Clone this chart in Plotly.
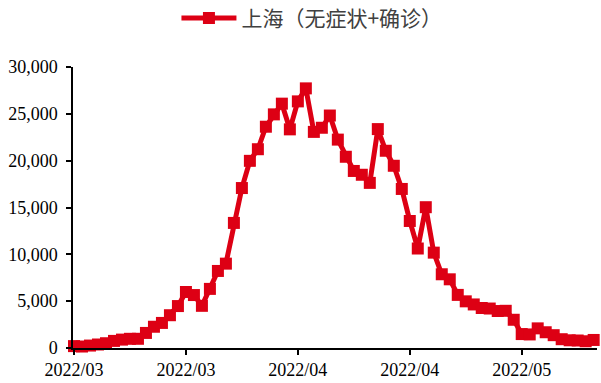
import datetime as dt
import plotly.graph_objects as go

# Daily new cases in Shanghai (asymptomatic + confirmed), 2022-03-15 .. 2022-05-19
start_date = "2022-03-15"
cases = [
    202, 158, 260, 374, 509, 758, 896, 981, 983, 1609,
    2269, 2676, 3500, 4477, 5982, 5653, 4502, 6311, 8226, 9006,
    13354, 17077, 19982, 21222, 23624, 24943, 26087, 23342, 26330, 27719,
    23072, 23513, 24820, 22248, 20416, 18901, 18495, 17629, 23370, 21058,
    19455, 16980, 13562, 10622, 15032, 10181, 7872, 7333, 5669, 4982,
    4651, 4269, 4214, 3947, 3972, 3014, 1487, 1449, 2096, 1681,
    1369, 938, 823, 801, 719, 858,
]
series_name = "上海（无症状+确诊）"
tick_dates = ["2022-03-15", "2022-03-29", "2022-04-12", "2022-04-26", "2022-05-10"]
y_ticks = [0, 5000, 10000, 15000, 20000, 25000, 30000]

d0 = dt.date.fromisoformat(start_date)
dates = [d0 + dt.timedelta(days=i) for i in range(len(cases))]

red = "#DD0014"
serif = "'Liberation Serif', 'Times New Roman', serif"

fig = go.Figure(
    go.Scatter(
        x=dates,
        y=cases,
        name=series_name,
        mode="lines+markers",
        line=dict(color=red, width=5),
        marker=dict(symbol="square", size=12, color=red),
        cliponaxis=False,
    )
)

x_start = dt.datetime.combine(d0, dt.time()) - dt.timedelta(hours=3)
x_end = dt.datetime.combine(dates[-1], dt.time()) + dt.timedelta(hours=10)

axis_common = dict(
    ticks="outside",
    ticklen=5,
    tickwidth=1.5,
    tickcolor="black",
    showline=True,
    linecolor="black",
    linewidth=1.5,
    showgrid=False,
    zeroline=False,
    automargin=False,
    tickfont=dict(family=serif, size=18, color="black"),
)

fig.update_layout(
    width=601,
    height=383,
    margin=dict(l=73, r=4, t=67, b=35, autoexpand=False),
    paper_bgcolor="white",
    plot_bgcolor="white",
    showlegend=True,
    legend=dict(
        orientation="h",
        x=0.456,
        xanchor="center",
        y=1.246,
        yref="paper",
        yanchor="top",
        font=dict(family="'Noto Sans CJK SC'", size=21, color="#404040"),
        itemwidth=55,
    ),
    xaxis=dict(
        type="date",
        range=[x_start, x_end],
        tickvals=tick_dates,
        tickformat="%Y/%m",
        **axis_common,
    ),
    yaxis=dict(
        range=[0, 30000],
        tickvals=y_ticks,
        tickformat=",",
        ticklabelstandoff=5,
        **axis_common,
    ),
)

fig.write_html("out.html")
